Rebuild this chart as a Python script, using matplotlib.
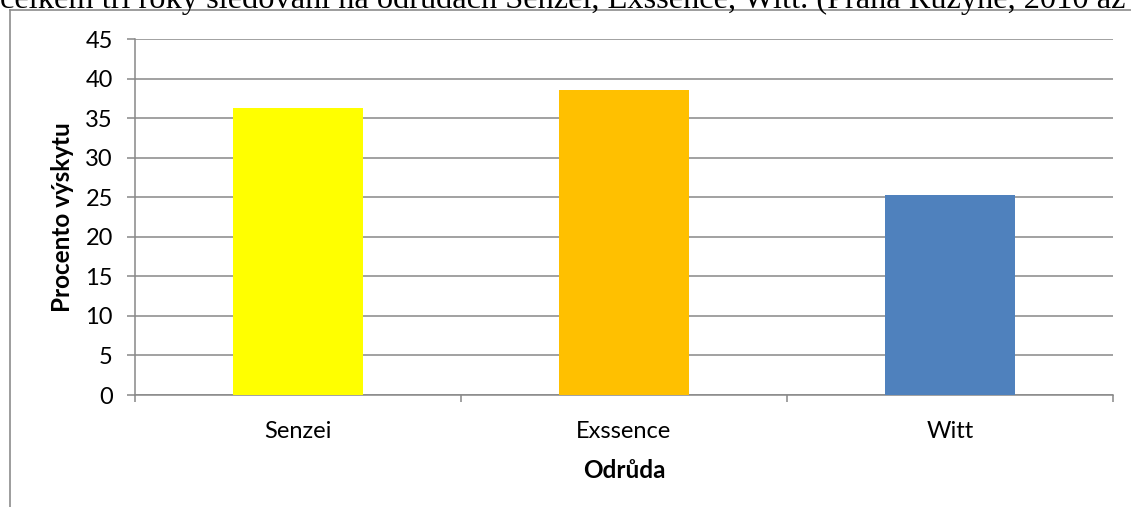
import numpy as np
import matplotlib.pyplot as plt
from matplotlib.lines import Line2D

odrudy = ['Senzei', 'Exssence', 'Witt']
vyskyt = [36.3, 38.5, 25.3]
barvy = ['#FFFF00', '#FFC000', '#4F81BD']
yticks = list(range(0, 50, 5))

W, H = 1131, 507
fig = plt.figure(figsize=(W / 100, H / 100), dpi=100)
ax = fig.add_axes([135 / W, 1 - 395 / H, (1113 - 135) / W, (395 - 39) / H])

x = np.arange(len(odrudy))
ax.bar(x, vyskyt, width=0.4, color=barvy, zorder=3)

grid_col = '#888888'
fs = 17
ax.set_xlim(-0.5, 2.5)
ax.set_ylim(0, 45)
ax.set_yticks(yticks)
ax.yaxis.grid(True, color=grid_col, lw=1.1, zorder=0)
ax.set_xticks(x)
ax.set_xticklabels(odrudy, family='Lato', fontsize=fs)
ax.set_xticks(np.arange(-0.5, 3, 1), minor=True)
ax.tick_params(axis='x', which='major', length=0, pad=19)
ax.tick_params(axis='x', which='minor', length=5, color=grid_col, width=1.1, direction='out')
ax.tick_params(axis='y', length=6, color=grid_col, width=1.1, pad=10, labelsize=fs)
for lab in ax.get_yticklabels():
    lab.set_family('Lato')

for s in ['top', 'right']:
    ax.spines[s].set_visible(False)
for s in ['left', 'bottom']:
    ax.spines[s].set_color(grid_col)
    ax.spines[s].set_linewidth(1.1)

ax.set_ylabel('Procento výskytu', family='Lato', fontweight='bold', fontsize=17.5, labelpad=8)
ax.set_xlabel('Odrůda', family='Lato', fontweight='bold', fontsize=17.5, labelpad=12)

# chart frame (partly cut off by the page)
fig.add_artist(Line2D([9.5 / W, 9.5 / W], [0, 1 - 10 / H], color='#8c8c8c', lw=1.2))
fig.add_artist(Line2D([9.5 / W, 1], [1 - 10 / H, 1 - 10 / H], color='#8c8c8c', lw=1.2))

# caption text cut off at the top, as in the reference
fig.text(0, 1 - 8 / H, 'celkem tři roky sledování na odrůdách Senzei, Exssence, Witt. (Praha Ruzyně, 2010 až',
         family='Liberation Serif', fontsize=23.3, va='baseline', ha='left')

fig.savefig('out.png', dpi=100)
